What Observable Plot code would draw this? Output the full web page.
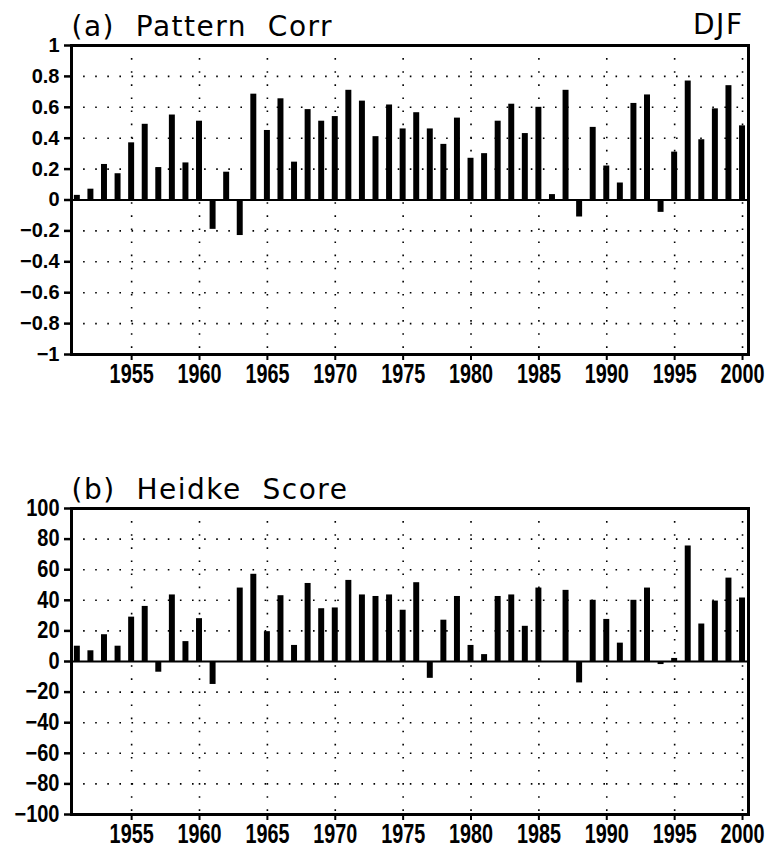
<!DOCTYPE html>
<html>
<head>
<meta charset="utf-8">
<script src="https://cdn.jsdelivr.net/npm/d3@7"></script>
<script src="https://cdn.jsdelivr.net/npm/@observablehq/plot@0.6"></script>
<style>
  html, body { margin: 0; padding: 0; background: #fff; }
  #chart { width: 768px; height: 850px; }
  #chart svg { display: block; }
</style>
</head>
<body>
<div id="chart"></div>
<script>
// ---- data ----
const years = [1951,1952,1953,1954,1955,1956,1957,1958,1959,1960,
               1961,1962,1963,1964,1965,1966,1967,1968,1969,1970,
               1971,1972,1973,1974,1975,1976,1977,1978,1979,1980,
               1981,1982,1983,1984,1985,1986,1987,1988,1989,1990,
               1991,1992,1993,1994,1995,1996,1997,1998,1999,2000];

const patternCorr = [0.03, 0.07, 0.23, 0.17, 0.37, 0.49, 0.21, 0.55, 0.24, 0.51,
                     -0.19, 0.18, -0.23, 0.685, 0.45, 0.655, 0.245, 0.585, 0.51, 0.54,
                     0.71, 0.64, 0.41, 0.615, 0.46, 0.565, 0.46, 0.36, 0.53, 0.27,
                     0.30, 0.51, 0.62, 0.43, 0.60, 0.035, 0.71, -0.11, 0.47, 0.22,
                     0.11, 0.625, 0.68, -0.08, 0.31, 0.77, 0.39, 0.59, 0.74, 0.48];

const heidkeScore = [10, 7, 17.5, 10, 29, 36, -7, 43.5, 13, 28,
                     -15, 0, 48, 57, 19.5, 43, 10.5, 51, 34.5, 35,
                     53, 43.5, 42.5, 43.5, 33.5, 51.5, -11, 27, 42.5, 10.5,
                     4.5, 42.5, 43.5, 23, 48, 0, 46.5, -14, 40, 27.5,
                     12, 40, 48, -2, 2, 75.5, 24.5, 39.5, 54.5, 41.5];

const yearTicks = [1955, 1960, 1965, 1970, 1975, 1980, 1985, 1990, 1995, 2000];
const yearTickLabels = ["1955","1960","1965","1970","1975","1980","1985","1990","1995","2000"];

const corrTicks = [-1, -0.8, -0.6, -0.4, -0.2, 0, 0.2, 0.4, 0.6, 0.8, 1];
const corrTickLabels = ["\u22121","\u22120.8","\u22120.6","\u22120.4","\u22120.2","0","0.2","0.4","0.6","0.8","1"];
const corrGrid = [-0.8, -0.6, -0.4, -0.2, 0.2, 0.4, 0.6, 0.8];

const heidkeTicks = [-100, -80, -60, -40, -20, 0, 20, 40, 60, 80, 100];
const heidkeTickLabels = ["\u2212100","\u221280","\u221260","\u221240","\u221220","0","20","40","60","80","100"];
const heidkeGrid = [-80, -60, -40, -20, 20, 40, 60, 80];

const titleA = "(a)  Pattern  Corr";
const titleB = "(b)  Heidke  Score";
const seasonLabel = "DJF";

// ---- helpers ----
function scaleTexts(svg, selector, sx, sy) {
  svg.querySelectorAll(selector).forEach(t => {
    let tr = t.getAttribute("transform");
    if (!tr) {
      const x = t.getAttribute("x") || 0, y = t.getAttribute("y") || 0;
      t.removeAttribute("x"); t.removeAttribute("y");
      tr = `translate(${x},${y})`;
    }
    t.setAttribute("transform", `${tr} scale(${sx},${sy})`);
  });
}

function panel({values, yDomain, yTicks, yTickLabels, yGrid, title, right, height, marginTop, marginBottom, ySy}) {
  const data = years.map((year, i) => ({year, value: values[i]}));
  const marks = [
    Plot.ruleY(yGrid, {stroke: "black", strokeWidth: 1.6, strokeDasharray: "1.6,10.5"}),
    Plot.ruleX(yearTicks, {stroke: "black", strokeWidth: 1.6, strokeDasharray: "1.6,11.5"}),
    Plot.rect(data, {x1: d => d.year - 0.22, x2: d => d.year + 0.22, y1: 0, y2: "value", fill: "black"}),
    Plot.ruleY([0], {stroke: "black", strokeWidth: 2}),
    Plot.frame({stroke: "black", strokeWidth: 3}),
    Plot.axisY({ticks: yTicks, tickFormat: d => yTickLabels[yTicks.indexOf(d)], tickSize: 7, tickPadding: 5,
                fontSize: 20, fontWeight: "bold", strokeWidth: 2.5, label: null}),
    Plot.axisX({ticks: yearTicks, tickFormat: d => yearTickLabels[yearTicks.indexOf(d)], tickSize: 6, tickPadding: 3,
                fontSize: 22, fontWeight: "bold", strokeWidth: 2, label: null}),
    Plot.text([title], {frameAnchor: "top-left", textAnchor: "start", lineAnchor: "bottom", dy: -10,
                        fontSize: 28, fontFamily: "DejaVu Sans", fill: "black"})
  ];
  if (right) {
    marks.push(Plot.text([right], {frameAnchor: "top-right", textAnchor: "end", lineAnchor: "bottom", dy: -12, dx: -5,
                                   fontSize: 28, fontFamily: "DejaVu Sans", fill: "black"}));
  }
  const svg = Plot.plot({
    width: 768, height,
    marginLeft: 71, marginRight: 20, marginTop, marginBottom,
    x: {type: "linear", domain: [1950.57, 2000.44]},
    y: {domain: yDomain},
    style: {fontFamily: "'Liberation Sans', Arial, sans-serif", background: "white", color: "black", overflow: "visible"},
    marks
  });
  svg.querySelectorAll('g[aria-label="text"] text').forEach(t => {
    t.style.whiteSpace = "pre";
    t.style.letterSpacing = "1.5px";
  });
  scaleTexts(svg, 'g[aria-label="x-axis tick label"] text', 0.9, 1.25);
  if (ySy !== 1) scaleTexts(svg, 'g[aria-label="y-axis tick label"] text', 1, ySy);
  return svg;
}

const chart = document.getElementById("chart");
chart.appendChild(panel({
  values: patternCorr, yDomain: [-1, 1], yTicks: corrTicks, yTickLabels: corrTickLabels, yGrid: corrGrid,
  title: titleA, right: seasonLabel, height: 440, marginTop: 45, marginBottom: 86, ySy: 1
}));
chart.appendChild(panel({
  values: heidkeScore, yDomain: [-100, 100], yTicks: heidkeTicks, yTickLabels: heidkeTickLabels, yGrid: heidkeGrid,
  title: titleB, right: null, height: 410, marginTop: 68, marginBottom: 36, ySy: 1.15
}));
</script>
</body>
</html>
